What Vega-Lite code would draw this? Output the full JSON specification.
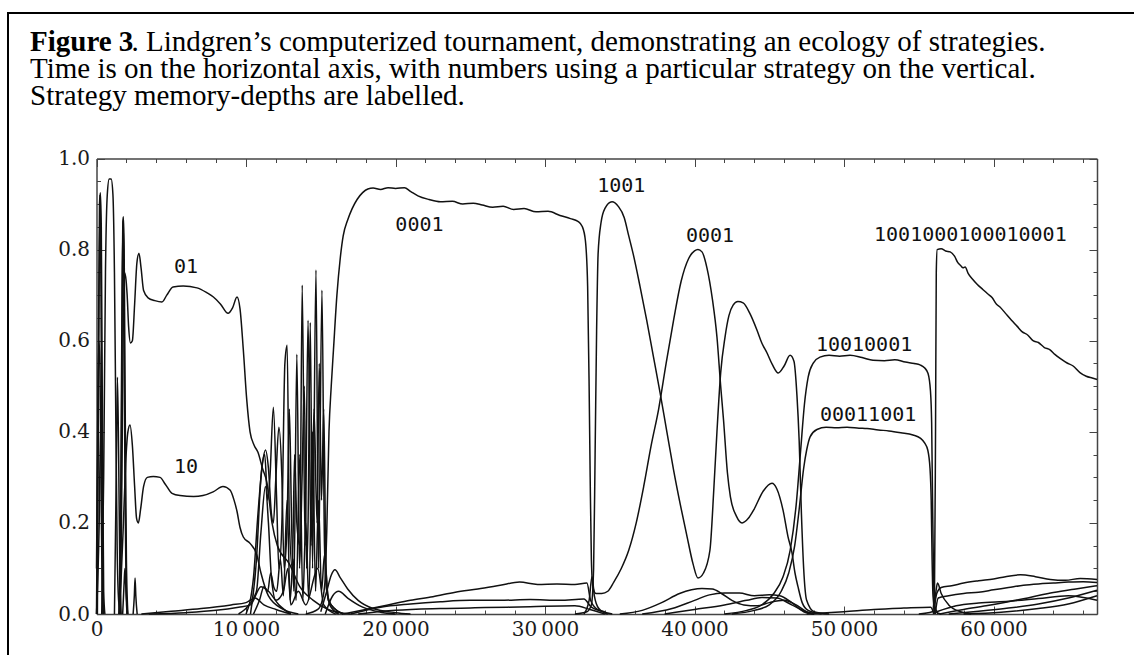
{
"$schema": "https://vega.github.io/schema/vega-lite/v6.json",
"autosize": "none",
"width": 1136,
"height": 660,
"padding": {"left": 8, "top": 13, "right": -10, "bottom": -18},
"background": "#ffffff",
"title": {
 "text": "Figure 3",
 "subtitle": ["\u200b\u00a0\u00a0\u00a0\u00a0\u00a0\u00a0\u00a0\u00a0\u00a0\u00a0\u00a0\u00a0\u00a0\u00a0. Lindgren’s computerized tournament, demonstrating an ecology of strategies.", "Time is on the horizontal axis, with numbers using a particular strategy on the vertical.", "Strategy memory-depths are labelled."],
 "anchor": "start", "frame": "group", "orient": "top", "baseline": "top",
 "font": "Liberation Serif", "fontSize": 29, "fontWeight": "bold", "color": "#000000",
 "subtitleFont": "Liberation Serif", "subtitleFontSize": 29, "subtitleFontWeight": "normal", "subtitleColor": "#000000",
 "subtitleLineHeight": 27, "subtitlePadding": -29,
 "dx": 22, "offset": -98
},
"datasets": {
 "labels": [
  {"label": "01", "t": 5990, "v": 0.762},
  {"label": "10", "t": 5990, "v": 0.323},
  {"label": "0001", "t": 21600, "v": 0.854},
  {"label": "1001", "t": 35100, "v": 0.94},
  {"label": "0001", "t": 41040, "v": 0.83},
  {"label": "1001000100010001", "t": 58450, "v": 0.832},
  {"label": "10010001", "t": 51340, "v": 0.59},
  {"label": "00011001", "t": 51610, "v": 0.437}
 ],
 "lines": [
  {"s":"sa1","t":0,"v":0},{"s":"sa1","t":120,"v":0.5},{"s":"sa1","t":200,"v":0.9},{"s":"sa1","t":260,"v":0.925},{"s":"sa1","t":320,"v":0.85},{"s":"sa1","t":400,"v":0.4},{"s":"sa1","t":480,"v":0.05},{"s":"sa1","t":560,"v":0},
  {"s":"sa2","t":60,"v":0},{"s":"sa2","t":150,"v":0.6},{"s":"sa2","t":240,"v":0.92},{"s":"sa2","t":300,"v":0.7},{"s":"sa2","t":380,"v":0.2},{"s":"sa2","t":450,"v":0},
  {"s":"sa3","t":0,"v":0.1},{"s":"sa3","t":90,"v":0.45},{"s":"sa3","t":160,"v":0.6},{"s":"sa3","t":230,"v":0.55},{"s":"sa3","t":300,"v":0.3},{"s":"sa3","t":380,"v":0.05},{"s":"sa3","t":450,"v":0},
  {"s":"sa4","t":0,"v":0},{"s":"sa4","t":180,"v":0.2},{"s":"sa4","t":280,"v":0.42},{"s":"sa4","t":360,"v":0.3},{"s":"sa4","t":440,"v":0},
  {"s":"sb","t":350,"v":0},{"s":"sb","t":480,"v":0.3},{"s":"sb","t":600,"v":0.75},{"s":"sb","t":720,"v":0.92},{"s":"sb","t":850,"v":0.955},{"s":"sb","t":980,"v":0.955},{"s":"sb","t":1100,"v":0.92},{"s":"sb","t":1200,"v":0.75},{"s":"sb","t":1300,"v":0.4},{"s":"sb","t":1380,"v":0.15},{"s":"sb","t":1480,"v":0.03},{"s":"sb","t":1600,"v":0},
  {"s":"sc","t":1500,"v":0},{"s":"sc","t":1620,"v":0.25},{"s":"sc","t":1700,"v":0.65},{"s":"sc","t":1760,"v":0.86},{"s":"sc","t":1800,"v":0.872},{"s":"sc","t":1850,"v":0.8},{"s":"sc","t":1920,"v":0.45},{"s":"sc","t":2000,"v":0.12},{"s":"sc","t":2100,"v":0},
  {"s":"sc2","t":1550,"v":0},{"s":"sc2","t":1660,"v":0.3},{"s":"sc2","t":1730,"v":0.75},{"s":"sc2","t":1790,"v":0.865},{"s":"sc2","t":1840,"v":0.7},{"s":"sc2","t":1900,"v":0.3},{"s":"sc2","t":1980,"v":0.05},{"s":"sc2","t":2050,"v":0},
  {"s":"sd","t":1200,"v":0},{"s":"sd","t":1320,"v":0.3},{"s":"sd","t":1400,"v":0.52},{"s":"sd","t":1480,"v":0.35},{"s":"sd","t":1560,"v":0.1},{"s":"sd","t":1650,"v":0},
  {"s":"se","t":2450,"v":0},{"s":"se","t":2530,"v":0.04},{"s":"se","t":2580,"v":0.079},{"s":"se","t":2630,"v":0.04},{"s":"se","t":2720,"v":0},
  {"s":"sf","t":1750,"v":0},{"s":"sf","t":1850,"v":0.07},{"s":"sf","t":1900,"v":0.1},{"s":"sf","t":1960,"v":0.06},{"s":"sf","t":2080,"v":0},
  {"s":"01","t":1600,"v":0},{"s":"01","t":1700,"v":0.3},{"s":"01","t":1780,"v":0.6},{"s":"01","t":1860,"v":0.75},{"s":"01","t":1950,"v":0.74},{"s":"01","t":2050,"v":0.7},{"s":"01","t":2150,"v":0.63},{"s":"01","t":2270,"v":0.595},{"s":"01","t":2400,"v":0.6},{"s":"01","t":2550,"v":0.68},{"s":"01","t":2700,"v":0.77},{"s":"01","t":2840,"v":0.792},{"s":"01","t":2980,"v":0.76},{"s":"01","t":3150,"v":0.71},{"s":"01","t":3450,"v":0.694},{"s":"01","t":3900,"v":0.688},{"s":"01","t":4380,"v":0.685},{"s":"01","t":4700,"v":0.7},{"s":"01","t":5120,"v":0.718},{"s":"01","t":5800,"v":0.72},{"s":"01","t":6720,"v":0.716},{"s":"01","t":7400,"v":0.705},{"s":"01","t":7820,"v":0.696},{"s":"01","t":8300,"v":0.68},{"s":"01","t":8800,"v":0.66},{"s":"01","t":9100,"v":0.672},{"s":"01","t":9400,"v":0.696},{"s":"01","t":9600,"v":0.67},{"s":"01","t":9820,"v":0.58},{"s":"01","t":10050,"v":0.47},{"s":"01","t":10270,"v":0.4},{"s":"01","t":10550,"v":0.37},{"s":"01","t":10800,"v":0.355},{"s":"01","t":11100,"v":0.32},{"s":"01","t":11400,"v":0.288},{"s":"01","t":11740,"v":0.2},{"s":"01","t":12100,"v":0.15},{"s":"01","t":12900,"v":0.11},{"s":"01","t":13600,"v":0.06},{"s":"01","t":14500,"v":0.03},{"s":"01","t":15500,"v":0.01},{"s":"01","t":17000,"v":0},
  {"s":"10","t":1500,"v":0},{"s":"10","t":1650,"v":0.08},{"s":"10","t":1800,"v":0.2},{"s":"10","t":1950,"v":0.33},{"s":"10","t":2100,"v":0.4},{"s":"10","t":2240,"v":0.415},{"s":"10","t":2400,"v":0.37},{"s":"10","t":2550,"v":0.28},{"s":"10","t":2680,"v":0.21},{"s":"10","t":2800,"v":0.2},{"s":"10","t":2950,"v":0.23},{"s":"10","t":3150,"v":0.28},{"s":"10","t":3400,"v":0.3},{"s":"10","t":3800,"v":0.302},{"s":"10","t":4250,"v":0.3},{"s":"10","t":4600,"v":0.285},{"s":"10","t":5050,"v":0.265},{"s":"10","t":5590,"v":0.26},{"s":"10","t":6500,"v":0.258},{"s":"10","t":7120,"v":0.26},{"s":"10","t":7800,"v":0.268},{"s":"10","t":8460,"v":0.28},{"s":"10","t":8930,"v":0.272},{"s":"10","t":9200,"v":0.25},{"s":"10","t":9400,"v":0.225},{"s":"10","t":9600,"v":0.19},{"s":"10","t":9820,"v":0.169},{"s":"10","t":10270,"v":0.155},{"s":"10","t":10720,"v":0.13},{"s":"10","t":11000,"v":0.09},{"s":"10","t":11500,"v":0.04},{"s":"10","t":12500,"v":0.01},{"s":"10","t":13500,"v":0},
  {"s":"cx","t":10000,"v":0},{"s":"cx","t":10500,"v":0.08},{"s":"cx","t":10800,"v":0.22},{"s":"cx","t":11100,"v":0.33},{"s":"cx","t":11300,"v":0.36},{"s":"cx","t":11500,"v":0.32},{"s":"cx","t":11700,"v":0.22},{"s":"cx","t":11830,"v":0.2},{"s":"cx","t":12000,"v":0.3},{"s":"cx","t":12200,"v":0.41},{"s":"cx","t":12400,"v":0.3},{"s":"cx","t":12550,"v":0.1},{"s":"cx","t":12750,"v":0.2},{"s":"cx","t":12900,"v":0.45},{"s":"cx","t":13050,"v":0.2},{"s":"cx","t":13200,"v":0.05},{"s":"cx","t":13400,"v":0.57},{"s":"cx","t":13580,"v":0.1},{"s":"cx","t":13750,"v":0.3},{"s":"cx","t":13900,"v":0.5},{"s":"cx","t":14050,"v":0.1},{"s":"cx","t":14150,"v":0.2},{"s":"cx","t":14300,"v":0.64},{"s":"cx","t":14450,"v":0.1},{"s":"cx","t":14680,"v":0.755},{"s":"cx","t":14850,"v":0.1},{"s":"cx","t":15080,"v":0.711},{"s":"cx","t":15250,"v":0.15},{"s":"cx","t":15400,"v":0.05},{"s":"cx","t":15700,"v":0.02},{"s":"cx","t":16500,"v":0},
  {"s":"cy","t":10300,"v":0},{"s":"cy","t":10700,"v":0.12},{"s":"cy","t":11000,"v":0.3},{"s":"cy","t":11250,"v":0.35},{"s":"cy","t":11450,"v":0.25},{"s":"cy","t":11600,"v":0.3},{"s":"cy","t":11830,"v":0.454},{"s":"cy","t":12050,"v":0.25},{"s":"cy","t":12200,"v":0.1},{"s":"cy","t":12400,"v":0.2},{"s":"cy","t":12600,"v":0.55},{"s":"cy","t":12750,"v":0.59},{"s":"cy","t":12900,"v":0.2},{"s":"cy","t":13100,"v":0.1},{"s":"cy","t":13250,"v":0.35},{"s":"cy","t":13400,"v":0.2},{"s":"cy","t":13600,"v":0.15},{"s":"cy","t":13760,"v":0.722},{"s":"cy","t":13950,"v":0.15},{"s":"cy","t":14150,"v":0.645},{"s":"cy","t":14350,"v":0.15},{"s":"cy","t":14550,"v":0.45},{"s":"cy","t":14750,"v":0.2},{"s":"cy","t":14900,"v":0.55},{"s":"cy","t":15050,"v":0.25},{"s":"cy","t":15200,"v":0.45},{"s":"cy","t":15350,"v":0.1},{"s":"cy","t":15600,"v":0.02},{"s":"cy","t":16200,"v":0},
  {"s":"cz","t":10500,"v":0},{"s":"cz","t":10900,"v":0.03},{"s":"cz","t":11200,"v":0.06},{"s":"cz","t":11450,"v":0.05},{"s":"cz","t":11650,"v":0.09},{"s":"cz","t":11850,"v":0.06},{"s":"cz","t":12050,"v":0.05},{"s":"cz","t":12300,"v":0.12},{"s":"cz","t":12500,"v":0.04},{"s":"cz","t":12750,"v":0.25},{"s":"cz","t":12950,"v":0.03},{"s":"cz","t":13150,"v":0.12},{"s":"cz","t":13350,"v":0.03},{"s":"cz","t":13600,"v":0.35},{"s":"cz","t":13800,"v":0.03},{"s":"cz","t":14000,"v":0.2},{"s":"cz","t":14200,"v":0.03},{"s":"cz","t":14450,"v":0.4},{"s":"cz","t":14650,"v":0.05},{"s":"cz","t":14850,"v":0.25},{"s":"cz","t":15050,"v":0.05},{"s":"cz","t":15250,"v":0.13},{"s":"cz","t":15500,"v":0.03},{"s":"cz","t":16000,"v":0.01},{"s":"cz","t":16500,"v":0},
  {"s":"cw","t":9500,"v":0},{"s":"cw","t":10200,"v":0.02},{"s":"cw","t":10700,"v":0.05},{"s":"cw","t":11000,"v":0.18},{"s":"cw","t":11300,"v":0.28},{"s":"cw","t":11500,"v":0.2},{"s":"cw","t":11700,"v":0.08},{"s":"cw","t":12000,"v":0.03},{"s":"cw","t":12500,"v":0.05},{"s":"cw","t":12800,"v":0.1},{"s":"cw","t":13000,"v":0.02},{"s":"cw","t":13500,"v":0.05},{"s":"cw","t":14000,"v":0.02},{"s":"cw","t":14800,"v":0.1},{"s":"cw","t":15200,"v":0.02},{"s":"cw","t":16000,"v":0},
  {"s":"ne1","t":3000,"v":0},{"s":"ne1","t":5000,"v":0.006},{"s":"ne1","t":7000,"v":0.012},{"s":"ne1","t":9000,"v":0.02},{"s":"ne1","t":10000,"v":0.025},{"s":"ne1","t":10600,"v":0.035},{"s":"ne1","t":11200,"v":0.02},{"s":"ne1","t":12000,"v":0.01},{"s":"ne1","t":13000,"v":0},
  {"s":"ne2","t":3500,"v":0},{"s":"ne2","t":6000,"v":0.003},{"s":"ne2","t":8000,"v":0.008},{"s":"ne2","t":9500,"v":0.015},{"s":"ne2","t":10300,"v":0.02},{"s":"ne2","t":11000,"v":0.06},{"s":"ne2","t":11500,"v":0.05},{"s":"ne2","t":12200,"v":0.02},{"s":"ne2","t":13000,"v":0},
  {"s":"0001","t":14000,"v":0},{"s":"0001","t":14800,"v":0.01},{"s":"0001","t":15100,"v":0.03},{"s":"0001","t":15280,"v":0.07},{"s":"0001","t":15400,"v":0.18},{"s":"0001","t":15550,"v":0.4},{"s":"0001","t":15700,"v":0.5},{"s":"0001","t":15850,"v":0.58},{"s":"0001","t":16080,"v":0.7},{"s":"0001","t":16300,"v":0.78},{"s":"0001","t":16500,"v":0.83},{"s":"0001","t":16800,"v":0.865},{"s":"0001","t":17100,"v":0.89},{"s":"0001","t":17430,"v":0.91},{"s":"0001","t":17800,"v":0.925},{"s":"0001","t":18150,"v":0.933},{"s":"0001","t":18500,"v":0.935},{"s":"0001","t":19000,"v":0.932},{"s":"0001","t":19500,"v":0.936},{"s":"0001","t":20000,"v":0.934},{"s":"0001","t":20600,"v":0.936},{"s":"0001","t":21000,"v":0.928},{"s":"0001","t":21500,"v":0.918},{"s":"0001","t":22240,"v":0.91},{"s":"0001","t":23000,"v":0.905},{"s":"0001","t":23800,"v":0.906},{"s":"0001","t":24500,"v":0.9},{"s":"0001","t":25200,"v":0.902},{"s":"0001","t":25800,"v":0.898},{"s":"0001","t":26500,"v":0.893},{"s":"0001","t":27200,"v":0.895},{"s":"0001","t":27900,"v":0.888},{"s":"0001","t":28600,"v":0.89},{"s":"0001","t":29400,"v":0.883},{"s":"0001","t":30200,"v":0.884},{"s":"0001","t":31000,"v":0.875},{"s":"0001","t":31700,"v":0.868},{"s":"0001","t":32200,"v":0.862},{"s":"0001","t":32500,"v":0.85},{"s":"0001","t":32700,"v":0.82},{"s":"0001","t":32850,"v":0.72},{"s":"0001","t":32950,"v":0.5},{"s":"0001","t":33020,"v":0.3},{"s":"0001","t":33100,"v":0.12},{"s":"0001","t":33200,"v":0.06},{"s":"0001","t":33400,"v":0.045},{"s":"0001","t":33800,"v":0.045},{"s":"0001","t":34200,"v":0.05},{"s":"0001","t":34600,"v":0.07},{"s":"0001","t":35100,"v":0.1},{"s":"0001","t":35600,"v":0.14},{"s":"0001","t":36100,"v":0.2},{"s":"0001","t":36600,"v":0.28},{"s":"0001","t":37100,"v":0.37},{"s":"0001","t":37600,"v":0.45},{"s":"0001","t":38100,"v":0.55},{"s":"0001","t":38600,"v":0.645},{"s":"0001","t":39100,"v":0.73},{"s":"0001","t":39600,"v":0.78},{"s":"0001","t":40000,"v":0.797},{"s":"0001","t":40230,"v":0.8},{"s":"0001","t":40500,"v":0.795},{"s":"0001","t":40830,"v":0.76},{"s":"0001","t":41200,"v":0.69},{"s":"0001","t":41500,"v":0.608},{"s":"0001","t":41750,"v":0.5},{"s":"0001","t":41940,"v":0.426},{"s":"0001","t":42200,"v":0.31},{"s":"0001","t":42400,"v":0.257},{"s":"0001","t":42800,"v":0.215},{"s":"0001","t":43180,"v":0.2},{"s":"0001","t":43600,"v":0.21},{"s":"0001","t":43950,"v":0.228},{"s":"0001","t":44600,"v":0.27},{"s":"0001","t":45180,"v":0.287},{"s":"0001","t":45500,"v":0.275},{"s":"0001","t":45920,"v":0.228},{"s":"0001","t":46250,"v":0.17},{"s":"0001","t":46520,"v":0.134},{"s":"0001","t":46720,"v":0.09},{"s":"0001","t":46920,"v":0.06},{"s":"0001","t":47200,"v":0.025},{"s":"0001","t":47600,"v":0.008},{"s":"0001","t":48500,"v":0},
  {"s":"1001","t":32000,"v":0},{"s":"1001","t":32800,"v":0.005},{"s":"1001","t":33100,"v":0.02},{"s":"1001","t":33250,"v":0.1},{"s":"1001","t":33350,"v":0.35},{"s":"1001","t":33450,"v":0.62},{"s":"1001","t":33550,"v":0.79},{"s":"1001","t":33750,"v":0.86},{"s":"1001","t":34000,"v":0.89},{"s":"1001","t":34480,"v":0.905},{"s":"1001","t":34900,"v":0.895},{"s":"1001","t":35300,"v":0.87},{"s":"1001","t":35600,"v":0.83},{"s":"1001","t":35900,"v":0.79},{"s":"1001","t":36350,"v":0.72},{"s":"1001","t":36800,"v":0.645},{"s":"1001","t":37250,"v":0.565},{"s":"1001","t":37700,"v":0.485},{"s":"1001","t":38150,"v":0.4},{"s":"1001","t":38600,"v":0.316},{"s":"1001","t":39050,"v":0.24},{"s":"1001","t":39500,"v":0.17},{"s":"1001","t":39900,"v":0.11},{"s":"1001","t":40230,"v":0.079},{"s":"1001","t":40600,"v":0.09},{"s":"1001","t":41030,"v":0.14},{"s":"1001","t":41300,"v":0.28},{"s":"1001","t":41500,"v":0.4},{"s":"1001","t":41750,"v":0.53},{"s":"1001","t":42040,"v":0.608},{"s":"1001","t":42300,"v":0.655},{"s":"1001","t":42580,"v":0.678},{"s":"1001","t":42900,"v":0.686},{"s":"1001","t":43250,"v":0.683},{"s":"1001","t":43700,"v":0.66},{"s":"1001","t":44180,"v":0.623},{"s":"1001","t":44500,"v":0.595},{"s":"1001","t":44850,"v":0.573},{"s":"1001","t":45200,"v":0.548},{"s":"1001","t":45600,"v":0.529},{"s":"1001","t":46000,"v":0.545},{"s":"1001","t":46390,"v":0.568},{"s":"1001","t":46650,"v":0.555},{"s":"1001","t":46850,"v":0.48},{"s":"1001","t":47000,"v":0.38},{"s":"1001","t":47150,"v":0.22},{"s":"1001","t":47300,"v":0.1},{"s":"1001","t":47500,"v":0.03},{"s":"1001","t":48000,"v":0.005},{"s":"1001","t":49000,"v":0},
  {"s":"10010001","t":42000,"v":0},{"s":"10010001","t":43500,"v":0.008},{"s":"10010001","t":44500,"v":0.02},{"s":"10010001","t":45300,"v":0.045},{"s":"10010001","t":45900,"v":0.08},{"s":"10010001","t":46400,"v":0.14},{"s":"10010001","t":46800,"v":0.24},{"s":"10010001","t":47100,"v":0.36},{"s":"10010001","t":47350,"v":0.46},{"s":"10010001","t":47600,"v":0.52},{"s":"10010001","t":47940,"v":0.551},{"s":"10010001","t":48390,"v":0.564},{"s":"10010001","t":49000,"v":0.568},{"s":"10010001","t":49700,"v":0.566},{"s":"10010001","t":50400,"v":0.568},{"s":"10010001","t":51200,"v":0.563},{"s":"10010001","t":51940,"v":0.557},{"s":"10010001","t":52700,"v":0.556},{"s":"10010001","t":53400,"v":0.558},{"s":"10010001","t":54100,"v":0.553},{"s":"10010001","t":54700,"v":0.55},{"s":"10010001","t":55080,"v":0.547},{"s":"10010001","t":55400,"v":0.54},{"s":"10010001","t":55620,"v":0.528},{"s":"10010001","t":55780,"v":0.49},{"s":"10010001","t":55860,"v":0.42},{"s":"10010001","t":55920,"v":0.25},{"s":"10010001","t":55980,"v":0.1},{"s":"10010001","t":56050,"v":0.02},{"s":"10010001","t":56300,"v":0},
  {"s":"00011001","t":42500,"v":0},{"s":"00011001","t":44000,"v":0.008},{"s":"00011001","t":45000,"v":0.02},{"s":"00011001","t":45800,"v":0.05},{"s":"00011001","t":46300,"v":0.09},{"s":"00011001","t":46700,"v":0.15},{"s":"00011001","t":47000,"v":0.23},{"s":"00011001","t":47300,"v":0.32},{"s":"00011001","t":47500,"v":0.36},{"s":"00011001","t":47730,"v":0.389},{"s":"00011001","t":48190,"v":0.405},{"s":"00011001","t":48800,"v":0.41},{"s":"00011001","t":49500,"v":0.409},{"s":"00011001","t":50200,"v":0.41},{"s":"00011001","t":51000,"v":0.408},{"s":"00011001","t":51540,"v":0.407},{"s":"00011001","t":52300,"v":0.404},{"s":"00011001","t":53000,"v":0.402},{"s":"00011001","t":53800,"v":0.398},{"s":"00011001","t":54610,"v":0.393},{"s":"00011001","t":55100,"v":0.386},{"s":"00011001","t":55400,"v":0.375},{"s":"00011001","t":55600,"v":0.36},{"s":"00011001","t":55750,"v":0.32},{"s":"00011001","t":55830,"v":0.25},{"s":"00011001","t":55890,"v":0.12},{"s":"00011001","t":55950,"v":0.04},{"s":"00011001","t":56100,"v":0.005},{"s":"00011001","t":56500,"v":0},
  {"s":"long","t":55000,"v":0},{"s":"long","t":55900,"v":0.005},{"s":"long","t":56050,"v":0.05},{"s":"long","t":56120,"v":0.4},{"s":"long","t":56170,"v":0.75},{"s":"long","t":56230,"v":0.8},{"s":"long","t":56500,"v":0.802},{"s":"long","t":56800,"v":0.797},{"s":"long","t":57100,"v":0.795},{"s":"long","t":57400,"v":0.785},{"s":"long","t":57600,"v":0.772},{"s":"long","t":57800,"v":0.765},{"s":"long","t":57960,"v":0.76},{"s":"long","t":58100,"v":0.762},{"s":"long","t":58300,"v":0.748},{"s":"long","t":58600,"v":0.735},{"s":"long","t":58900,"v":0.724},{"s":"long","t":59300,"v":0.712},{"s":"long","t":59600,"v":0.703},{"s":"long","t":59900,"v":0.695},{"s":"long","t":60200,"v":0.68},{"s":"long","t":60430,"v":0.674},{"s":"long","t":60800,"v":0.66},{"s":"long","t":61200,"v":0.645},{"s":"long","t":61570,"v":0.632},{"s":"long","t":61900,"v":0.62},{"s":"long","t":62300,"v":0.612},{"s":"long","t":62640,"v":0.6},{"s":"long","t":63000,"v":0.596},{"s":"long","t":63400,"v":0.585},{"s":"long","t":63780,"v":0.58},{"s":"long","t":64100,"v":0.57},{"s":"long","t":64500,"v":0.56},{"s":"long","t":64920,"v":0.551},{"s":"long","t":65300,"v":0.545},{"s":"long","t":65780,"v":0.53},{"s":"long","t":66200,"v":0.522},{"s":"long","t":66600,"v":0.518},{"s":"long","t":66920,"v":0.515},
  {"s":"n1","t":16500,"v":0},{"s":"n1","t":18000,"v":0.01},{"s":"n1","t":19500,"v":0.02},{"s":"n1","t":21000,"v":0.03},{"s":"n1","t":22500,"v":0.038},{"s":"n1","t":24000,"v":0.048},{"s":"n1","t":25500,"v":0.055},{"s":"n1","t":27000,"v":0.063},{"s":"n1","t":28300,"v":0.07},{"s":"n1","t":29500,"v":0.065},{"s":"n1","t":30800,"v":0.066},{"s":"n1","t":32000,"v":0.065},{"s":"n1","t":32800,"v":0.068},{"s":"n1","t":33050,"v":0.03},{"s":"n1","t":33500,"v":0.01},{"s":"n1","t":34500,"v":0},
  {"s":"n2","t":17000,"v":0},{"s":"n2","t":19000,"v":0.015},{"s":"n2","t":21000,"v":0.022},{"s":"n2","t":23000,"v":0.027},{"s":"n2","t":25000,"v":0.03},{"s":"n2","t":27000,"v":0.03},{"s":"n2","t":29000,"v":0.032},{"s":"n2","t":31000,"v":0.03},{"s":"n2","t":32600,"v":0.033},{"s":"n2","t":33100,"v":0.015},{"s":"n2","t":34000,"v":0.005},
  {"s":"n3","t":17500,"v":0},{"s":"n3","t":20000,"v":0.008},{"s":"n3","t":23000,"v":0.012},{"s":"n3","t":26000,"v":0.014},{"s":"n3","t":29000,"v":0.016},{"s":"n3","t":32000,"v":0.018},{"s":"n3","t":33000,"v":0.01},{"s":"n3","t":34000,"v":0},
  {"s":"b1","t":15000,"v":0.005},{"s":"b1","t":15400,"v":0.05},{"s":"b1","t":15700,"v":0.085},{"s":"b1","t":15950,"v":0.097},{"s":"b1","t":16300,"v":0.08},{"s":"b1","t":16800,"v":0.055},{"s":"b1","t":17500,"v":0.03},{"s":"b1","t":18500,"v":0.012},{"s":"b1","t":20000,"v":0.003},{"s":"b1","t":21000,"v":0},
  {"s":"b2","t":15300,"v":0},{"s":"b2","t":15800,"v":0.04},{"s":"b2","t":16200,"v":0.05},{"s":"b2","t":16800,"v":0.035},{"s":"b2","t":17800,"v":0.015},{"s":"b2","t":19000,"v":0.004},{"s":"b2","t":20000,"v":0},
  {"s":"b3","t":32600,"v":0},{"s":"b3","t":32950,"v":0.03},{"s":"b3","t":33140,"v":0.082},{"s":"b3","t":33300,"v":0.04},{"s":"b3","t":33600,"v":0.012},{"s":"b3","t":34200,"v":0},
  {"s":"n4","t":35000,"v":0},{"s":"n4","t":36500,"v":0.008},{"s":"n4","t":37800,"v":0.025},{"s":"n4","t":39000,"v":0.045},{"s":"n4","t":39800,"v":0.053},{"s":"n4","t":40500,"v":0.056},{"s":"n4","t":41200,"v":0.055},{"s":"n4","t":41800,"v":0.045},{"s":"n4","t":42500,"v":0.03},{"s":"n4","t":43300,"v":0.02},{"s":"n4","t":44200,"v":0.018},{"s":"n4","t":45000,"v":0.025},{"s":"n4","t":46000,"v":0.03},{"s":"n4","t":46800,"v":0.02},{"s":"n4","t":47500,"v":0.005},{"s":"n4","t":48000,"v":0},
  {"s":"n5","t":36500,"v":0},{"s":"n5","t":38500,"v":0.012},{"s":"n5","t":40000,"v":0.03},{"s":"n5","t":41000,"v":0.042},{"s":"n5","t":42000,"v":0.046},{"s":"n5","t":43000,"v":0.046},{"s":"n5","t":44000,"v":0.04},{"s":"n5","t":45000,"v":0.042},{"s":"n5","t":45700,"v":0.04},{"s":"n5","t":46500,"v":0.025},{"s":"n5","t":47300,"v":0.005},{"s":"n5","t":48000,"v":0},
  {"s":"n6","t":38000,"v":0},{"s":"n6","t":40000,"v":0.01},{"s":"n6","t":42000,"v":0.02},{"s":"n6","t":43500,"v":0.03},{"s":"n6","t":44500,"v":0.036},{"s":"n6","t":45500,"v":0.035},{"s":"n6","t":46500,"v":0.02},{"s":"n6","t":47500,"v":0.004},{"s":"n6","t":48000,"v":0},
  {"s":"n7","t":56000,"v":0},{"s":"n7","t":56200,"v":0.045},{"s":"n7","t":56500,"v":0.058},{"s":"n7","t":57200,"v":0.062},{"s":"n7","t":58000,"v":0.068},{"s":"n7","t":59000,"v":0.073},{"s":"n7","t":60000,"v":0.077},{"s":"n7","t":60800,"v":0.082},{"s":"n7","t":61800,"v":0.086},{"s":"n7","t":62800,"v":0.082},{"s":"n7","t":63800,"v":0.076},{"s":"n7","t":64800,"v":0.074},{"s":"n7","t":65800,"v":0.078},{"s":"n7","t":66920,"v":0.076},
  {"s":"n8","t":56100,"v":0},{"s":"n8","t":56300,"v":0.035},{"s":"n8","t":57000,"v":0.04},{"s":"n8","t":58000,"v":0.045},{"s":"n8","t":59000,"v":0.048},{"s":"n8","t":60000,"v":0.053},{"s":"n8","t":61000,"v":0.058},{"s":"n8","t":62000,"v":0.063},{"s":"n8","t":63000,"v":0.066},{"s":"n8","t":64000,"v":0.068},{"s":"n8","t":65000,"v":0.07},{"s":"n8","t":66000,"v":0.071},{"s":"n8","t":66920,"v":0.069},
  {"s":"n9","t":56400,"v":0},{"s":"n9","t":58000,"v":0.01},{"s":"n9","t":59500,"v":0.018},{"s":"n9","t":61000,"v":0.027},{"s":"n9","t":62500,"v":0.037},{"s":"n9","t":64000,"v":0.047},{"s":"n9","t":65500,"v":0.055},{"s":"n9","t":66920,"v":0.062},
  {"s":"n10","t":57000,"v":0},{"s":"n10","t":59000,"v":0.006},{"s":"n10","t":61000,"v":0.013},{"s":"n10","t":63000,"v":0.022},{"s":"n10","t":65000,"v":0.035},{"s":"n10","t":66920,"v":0.052},
  {"s":"n11","t":58000,"v":0},{"s":"n11","t":60500,"v":0.004},{"s":"n11","t":63000,"v":0.012},{"s":"n11","t":65000,"v":0.022},{"s":"n11","t":66920,"v":0.04},
  {"s":"n12","t":56200,"v":0.005},{"s":"n12","t":57500,"v":0.018},{"s":"n12","t":59000,"v":0.024},{"s":"n12","t":61000,"v":0.028},{"s":"n12","t":63000,"v":0.034},{"s":"n12","t":65000,"v":0.04},{"s":"n12","t":66920,"v":0.03},
  {"s":"n13","t":56000,"v":0},{"s":"n13","t":56150,"v":0.05},{"s":"n13","t":56250,"v":0.068},{"s":"n13","t":56500,"v":0.045},{"s":"n13","t":57000,"v":0.02},{"s":"n13","t":57800,"v":0.005},{"s":"n13","t":58500,"v":0},
  {"s":"n14","t":47500,"v":0},{"s":"n14","t":50000,"v":0.005},{"s":"n14","t":52000,"v":0.01},{"s":"n14","t":54000,"v":0.013},{"s":"n14","t":55800,"v":0.015},{"s":"n14","t":56000,"v":0}
 ]
},
"layer": [
 {
  "data": {"name": "lines"},
  "mark": {"type": "line", "interpolate": "monotone", "color": "#111111", "strokeWidth": 1.5},
  "encoding": {
   "x": {"field": "t", "type": "quantitative",
    "scale": {"domain": [0, 66920], "range": [88.5, 1089], "nice": false, "zero": false},
    "axis": {"orient": "bottom", "offset": -59, "title": null, "grid": false,
     "values": [0,2000,4000,6000,8000,10000,12000,14000,16000,18000,20000,22000,24000,26000,28000,30000,32000,34000,36000,38000,40000,42000,44000,46000,48000,50000,52000,54000,56000,58000,60000,62000,64000,66000],
     "labelExpr": "datum.value % 10000 == 0 ? replace(format(datum.value, ','), ',', '\u2009') : ''",
     "tickSize": {"condition": {"test": "datum.value % 10000 == 0", "value": -8}, "value": -4},
     "tickColor": "#444444", "domainColor": "#444444", "domainWidth": 1.5,
     "labelFont": "DejaVu Serif", "labelFontSize": 20, "labelColor": "#1a1a1a", "labelPadding": 13,
     "labelOverlap": false, "labelFlush": false}},
   "y": {"field": "v", "type": "quantitative",
    "scale": {"domain": [0, 1], "range": [601, 145.5], "nice": false, "zero": false},
    "axis": {"orient": "left", "offset": -88.5, "title": null, "grid": false,
     "values": [0,0.05,0.1,0.15,0.2,0.25,0.3,0.35,0.4,0.45,0.5,0.55,0.6,0.65,0.7,0.75,0.8,0.85,0.9,0.95,1],
     "labelExpr": "round(datum.value*100) % 20 == 0 ? format(datum.value, '.1f') : ''",
     "tickSize": {"condition": {"test": "round(datum.value*100) % 20 == 0", "value": -8}, "value": -4},
     "tickColor": "#444444", "domainColor": "#444444", "domainWidth": 1.5,
     "labelFont": "DejaVu Serif", "labelFontSize": 20, "labelColor": "#1a1a1a", "labelPadding": 15,
     "labelOverlap": false, "labelFlush": false}},
   "detail": {"field": "s", "type": "nominal"}
  }
 },
 {
  "data": {"name": "labels"},
  "mark": {"type": "text", "font": "DejaVu Sans Mono", "fontSize": 20, "baseline": "middle", "align": "center", "color": "#111111"},
  "encoding": {
   "x": {"field": "t", "type": "quantitative",
    "scale": {"domain": [0, 66920], "range": [88.5, 1089], "nice": false, "zero": false},
    "axis": {"orient": "top", "offset": -145.5, "title": null, "grid": false, "labels": false,
     "values": [0,2000,4000,6000,8000,10000,12000,14000,16000,18000,20000,22000,24000,26000,28000,30000,32000,34000,36000,38000,40000,42000,44000,46000,48000,50000,52000,54000,56000,58000,60000,62000,64000,66000],
     "tickSize": {"condition": {"test": "datum.value % 10000 == 0", "value": -8}, "value": -4},
     "tickColor": "#444444", "domainColor": "#444444", "domainWidth": 1.5}},
   "y": {"field": "v", "type": "quantitative",
    "scale": {"domain": [0, 1], "range": [601, 145.5], "nice": false, "zero": false},
    "axis": {"orient": "right", "offset": -47, "title": null, "grid": false, "labels": false,
     "values": [0,0.05,0.1,0.15,0.2,0.25,0.3,0.35,0.4,0.45,0.5,0.55,0.6,0.65,0.7,0.75,0.8,0.85,0.9,0.95,1],
     "tickSize": {"condition": {"test": "round(datum.value*100) % 20 == 0", "value": -8}, "value": -4},
     "tickColor": "#444444", "domainColor": "#444444", "domainWidth": 1.5}},
   "text": {"field": "label", "type": "nominal"}
  }
 }
],
"resolve": {"axis": {"x": "independent", "y": "independent"}},
"config": {
 "view": {"stroke": "#000000", "strokeWidth": 2},
 "axis": {"grid": false}
}
}
